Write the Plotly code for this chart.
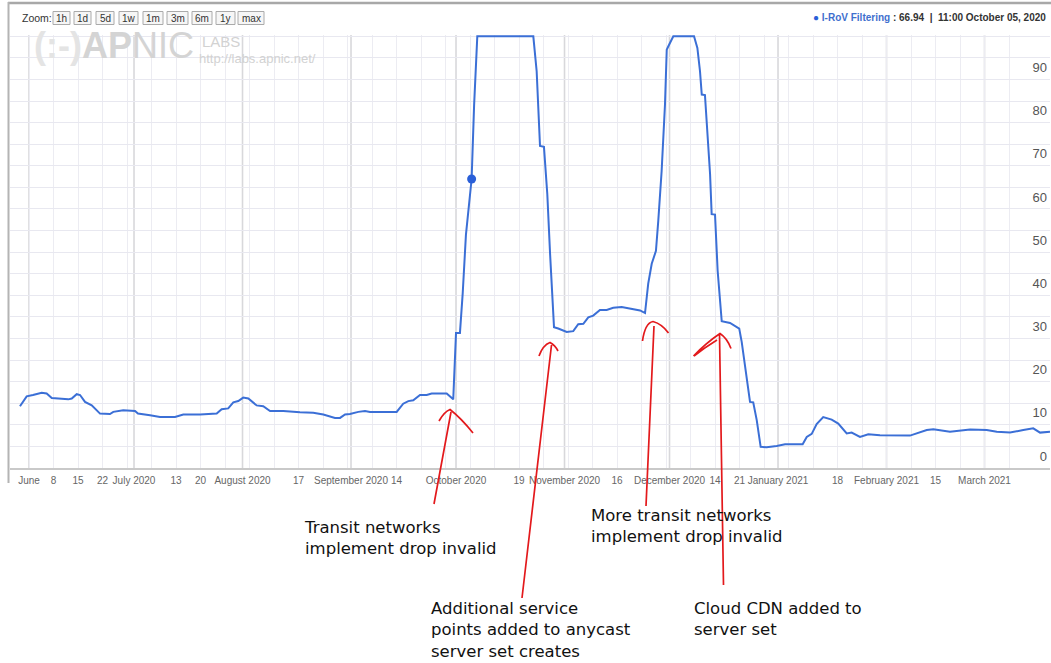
import plotly.graph_objects as go

W, H = 1051, 663

# ---------------- data ----------------
dates = [
    '2020-05-29 10:00', '2020-05-31 08:00', '2020-06-02 03:00', '2020-06-04 15:00', '2020-06-06 01:00',
    '2020-06-07 12:00', '2020-06-12 05:00', '2020-06-13 05:00', '2020-06-14 15:00', '2020-06-15 14:00',
    '2020-06-17 00:00', '2020-06-18 22:00', '2020-06-21 07:00', '2020-06-24 03:00', '2020-06-25 02:00',
    '2020-06-27 22:00', '2020-07-01 07:00', '2020-07-02 03:00', '2020-07-05 14:00', '2020-07-08 10:00',
    '2020-07-12 17:00', '2020-07-15 02:00', '2020-07-19 21:00', '2020-07-24 15:00', '2020-07-26 01:00',
    '2020-07-27 22:00', '2020-07-29 09:00', '2020-07-30 19:00', '2020-08-01 05:00', '2020-08-02 16:00',
    '2020-08-05 01:00', '2020-08-06 22:00', '2020-08-08 21:00', '2020-08-12 16:00', '2020-08-17 10:00',
    '2020-08-21 05:00', '2020-08-24 02:00', '2020-08-27 10:00', '2020-08-28 21:00', '2020-08-30 07:00',
    '2020-08-31 17:00', '2020-09-03 02:00', '2020-09-05 00:00', '2020-09-06 10:00', '2020-09-10 05:00',
    '2020-09-14 01:00', '2020-09-15 22:00', '2020-09-17 09:00', '2020-09-18 19:00', '2020-09-20 17:00',
    '2020-09-22 15:00', '2020-09-24 01:00', '2020-09-28 08:00', '2020-09-30 05:00', '2020-10-01 00:00',
    '2020-10-02 03:00', '2020-10-02 22:00', '2020-10-03 20:00', '2020-10-05 11:00', '2020-10-06 04:00',
    '2020-10-07 02:00', '2020-10-23 02:00', '2020-10-24 01:00', '2020-10-25 00:00', '2020-10-26 03:00',
    '2020-10-27 02:00', '2020-10-27 21:00', '2020-10-29 00:00', '2020-10-30 05:00', '2020-11-01 15:00',
    '2020-11-03 12:00', '2020-11-04 22:00', '2020-11-06 09:00', '2020-11-07 19:00', '2020-11-09 05:00',
    '2020-11-11 03:00', '2020-11-13 01:00', '2020-11-14 22:00', '2020-11-17 08:00', '2020-11-20 16:00',
    '2020-11-22 14:00', '2020-11-24 00:00', '2020-11-24 22:00', '2020-11-25 22:00', '2020-11-27 03:00',
    '2020-11-27 19:00', '2020-11-28 18:00', '2020-11-29 17:00', '2020-11-30 05:00', '2020-11-30 16:00',
    '2020-12-02 02:00', '2020-12-08 00:00', '2020-12-08 23:00', '2020-12-09 17:00', '2020-12-10 05:00',
    '2020-12-11 03:00', '2020-12-11 19:00', '2020-12-12 14:00', '2020-12-13 01:00', '2020-12-14 00:00',
    '2020-12-14 18:00', '2020-12-15 22:00', '2020-12-18 07:00', '2020-12-19 17:00', '2020-12-20 22:00',
    '2020-12-21 15:00', '2020-12-22 14:00', '2020-12-23 05:00', '2020-12-24 00:00', '2020-12-24 22:00',
    '2020-12-25 22:00', '2020-12-27 01:00', '2020-12-28 18:00', '2020-12-31 15:00', '2021-01-03 00:00',
    '2021-01-08 01:00', '2021-01-09 05:00', '2021-01-10 15:00', '2021-01-12 01:00', '2021-01-13 22:00',
    '2021-01-16 08:00', '2021-01-18 05:00', '2021-01-20 15:00', '2021-01-22 01:00', '2021-01-24 10:00',
    '2021-01-26 19:00', '2021-01-30 03:00', '2021-02-07 17:00', '2021-02-12 12:00', '2021-02-14 09:00',
    '2021-02-19 03:00', '2021-02-24 21:00', '2021-03-01 15:00', '2021-03-04 12:00', '2021-03-08 07:00',
    '2021-03-12 02:00', '2021-03-14 22:00', '2021-03-16 21:00', '2021-03-19 17:00',
]
values = [
    14.3, 16.6, 16.9, 17.4, 17.25,
    16.2, 15.9, 16.1, 17.1, 16.9,
    15.3, 14.5, 12.6, 12.5, 13.0,
    13.4, 13.2, 12.6, 12.2, 11.8,
    11.8, 12.4, 12.4, 12.6, 13.6,
    13.8, 15.2, 15.5, 16.3, 16.1,
    14.5, 14.3, 13.2, 13.2, 12.9,
    12.8, 12.4, 11.6, 11.6, 12.4,
    12.5, 13.0, 13.2, 13.0, 13.0,
    13.0, 14.9, 15.5, 15.7, 16.9,
    16.9, 17.25, 17.25, 15.9, 31.3,
    31.3, 40.5, 54.0, 66.94, 84.0,
    100.0, 100.0, 91.9, 74.6, 74.4,
    63.4, 49.6, 32.6, 32.3, 31.5,
    31.7, 33.3, 33.4, 34.9, 35.3,
    36.6, 36.6, 37.1, 37.3, 36.9,
    36.5, 35.9, 42.7, 47.3, 50.3,
    57.3, 68.8, 84.2, 96.9, 97.7,
    100.0, 100.0, 97.3, 91.9, 86.5,
    86.4, 78.8, 68.1, 58.8, 58.7,
    45.7, 34.0, 33.6, 33.0, 32.3,
    29.2, 23.4, 19.6, 15.3, 15.2,
    11.1, 4.9, 4.8, 5.1, 5.5,
    5.5, 7.2, 7.9, 10.2, 11.8,
    11.2, 10.3, 8.0, 8.2, 7.2,
    7.8, 7.6, 7.5, 8.8, 9.0,
    8.4, 8.9, 8.8, 8.4, 8.2,
    8.8, 9.2, 8.2, 8.4,
]

hover_date = '2020-10-05 11:00'
hover_value = 66.94
hover_label = '11:00 October 05, 2020'
series_name = 'I-RoV Filtering'

x_tick_dates = ['2020-06-01', '2020-06-08', '2020-06-15', '2020-06-22', '2020-07-01', '2020-07-13',
                '2020-07-20', '2020-08-01', '2020-08-17', '2020-09-01', '2020-09-14', '2020-10-01',
                '2020-10-19', '2020-11-01', '2020-11-16', '2020-12-01', '2020-12-14', '2020-12-21',
                '2021-01-01', '2021-01-18', '2021-02-01', '2021-02-15', '2021-03-01']
x_tick_text = ['June', '8', '15', '22', 'July 2020', '13', '20', 'August 2020', '17',
               'September 2020', '14', 'October 2020', '19', 'November 2020', '16',
               'December 2020', '14', '21', 'January 2021', '18', 'February 2021', '15', 'March 2021']
month_starts = ['2020-06-01', '2020-07-01', '2020-08-01', '2020-09-01', '2020-10-01', '2020-11-01',
                '2020-12-01', '2021-01-01', '2021-02-01', '2021-03-01']
x_range = ['2020-05-26 13:40', '2021-03-19 17:00']

y_tick_vals = [0, 5, 10, 15, 20, 25, 30, 35, 40, 45, 50, 55, 60, 65, 70, 75, 80, 85, 90, 95, 100]
y_tick_text = ['0', '', '10', '', '20', '', '30', '', '40', '', '50', '', '60', '', '70', '', '80', '',
               '90', '', '']

zoom_buttons = ['1h', '1d', '5d', '1w', '1m', '3m', '6m', '1y', 'max']

notes = [
    'Transit networks<br>implement drop invalid',
    'More transit networks<br>implement drop invalid',
    'Additional service<br>points added to anycast<br>server set creates',
    'Cloud CDN added to<br>server set',
]

# ---------------- layout helpers (pixel -> paper) ----------------
def px(x):
    return x / W


def py(y):
    return 1 - y / H


def path(points_cmds):
    out = []
    for cmd, pts in points_cmds:
        coords = ' '.join(f'{px(x):.5f},{py(y):.5f}' for x, y in pts)
        out.append(f'{cmd} {coords}')
    return ' '.join(out)


PLOT_L, PLOT_R, PLOT_T, PLOT_B = 10, 1050, 35, 468
BLUE = '#3b6fd6'
RED = '#e3191c'

fig = go.Figure()
fig.add_trace(go.Scatter(x=dates, y=values, mode='lines', name=series_name,
                         line=dict(color=BLUE, width=2), hoverinfo='skip'))
fig.add_trace(go.Scatter(x=[hover_date], y=[hover_value], mode='markers', name=series_name,
                         marker=dict(color='#2a5fd8', size=9), hoverinfo='skip'))

shapes = []
# monthly grid lines (darker)
for m in month_starts:
    shapes.append(dict(type='line', xref='x', yref='paper', x0=m, x1=m,
                       y0=py(PLOT_B), y1=py(PLOT_T), layer='below',
                       line=dict(color='#d8d8db', width=1.6)))

# container border
shapes.append(dict(type='line', xref='paper', yref='paper', x0=px(8), x1=1, y0=py(3), y1=py(3),
                   line=dict(color='#a8a8a8', width=2.5)))
shapes.append(dict(type='line', xref='paper', yref='paper', x0=px(8.5), x1=px(8.5), y0=py(2), y1=py(483),
                   line=dict(color='#b4b4b4', width=2)))

# zoom button boxes
btn_boxes = [(53, 70), (74, 91), (96, 114), (119, 138), (143, 163), (167, 188), (192, 212), (216, 235), (238, 264)]
annotations = []
annotations.append(dict(x=px(20), y=py(18), xref='paper', yref='paper', text='Zoom:', showarrow=False,
                        xanchor='left', yanchor='middle',
                        font=dict(family='Liberation Sans, Arial', size=10.5, color='#333')))
for lab, (x0, x1) in zip(zoom_buttons, btn_boxes):
    shapes.append(dict(type='rect', xref='paper', yref='paper', x0=px(x0), x1=px(x1), y0=py(24.5), y1=py(11.5),
                       fillcolor='#f6f6f6', line=dict(color='#aaaaaa', width=1)))
    annotations.append(dict(x=px((x0 + x1) / 2), y=py(18.3), xref='paper', yref='paper', text=lab,
                            showarrow=False, xanchor='center', yanchor='middle',
                            font=dict(family='Liberation Sans, Arial', size=10, color='#333')))

# legend / hover readout
annotations.append(dict(x=px(1048), y=py(17), xref='paper', yref='paper', showarrow=False,
                        xanchor='right', yanchor='middle',
                        text=(f"<span style='color:#2a5fd8'>●</span> "
                              f"<span style='color:#3f6fce'>{series_name}</span> : {hover_value:.2f}"
                              f"  |  {hover_label}"),
                        font=dict(family='Liberation Sans, Arial', size=10,
                                  color='#333', weight='bold')))

# watermark
annotations.append(dict(x=px(32), y=py(46), xref='paper', yref='paper', showarrow=False,
                        xanchor='left', yanchor='middle',
                        text="<span style='color:#e4e4e4'><b>(:-)</b></span><b>AP</b>NIC",
                        font=dict(family='Liberation Sans, Arial', size=36, color='#d4d4d4')))
annotations.append(dict(x=px(200), y=py(41), xref='paper', yref='paper', showarrow=False,
                        xanchor='left', yanchor='middle', text='LABS',
                        font=dict(family='Liberation Sans, Arial', size=15, color='#d2d2d2')))
annotations.append(dict(x=px(197), y=py(58), xref='paper', yref='paper', showarrow=False,
                        xanchor='left', yanchor='middle', text='http://labs.apnic.net/',
                        font=dict(family='Liberation Sans, Arial', size=13, color='#d2d2d2')))

# hand-written notes
note_pos = [(302, 538), (589, 526), (429, 630), (692, 619)]
for txt, (nx, ny) in zip(notes, note_pos):
    annotations.append(dict(x=px(nx), y=py(ny), xref='paper', yref='paper', showarrow=False,
                            xanchor='left', yanchor='middle', align='left', text=txt,
                            font=dict(family='DejaVu Sans', size=16.5, color='#111111')))

# red hand-drawn arrows
arrow_paths = [
    [('M', [(434, 504)]), ('L', [(451, 412)]),
     ('M', [(439, 421)]), ('Q', [(444, 412), (450, 409.5)]), ('Q', [(461, 418), (473, 433)])],
    [('M', [(522, 598)]), ('L', [(551.5, 345)]),
     ('M', [(539, 356)]), ('Q', [(543, 345), (550, 342.5)]), ('Q', [(555, 345), (558, 351)])],
    [('M', [(646, 506)]), ('L', [(654, 326)]),
     ('M', [(642.5, 341)]), ('Q', [(645, 323), (653, 321.5)]), ('Q', [(662, 324), (668.5, 333)])],
    [('M', [(723.5, 585)]), ('L', [(719.5, 334)]),
     ('M', [(693.5, 356)]), ('Q', [(706, 343), (720, 333.5)]), ('Q', [(727, 338), (731, 348.5)]),
     ('M', [(694, 356)]), ('Q', [(704, 348), (717, 340)])],
]
for ap in arrow_paths:
    shapes.append(dict(type='path', xref='paper', yref='paper', path=path(ap),
                       line=dict(color=RED, width=1.7)))

fig.update_layout(
    width=W, height=H, autosize=False,
    margin=dict(l=0, r=0, t=0, b=0),
    paper_bgcolor='white', plot_bgcolor='white',
    showlegend=False,
    shapes=shapes, annotations=annotations,
    xaxis=dict(
        domain=[px(PLOT_L), px(PLOT_R)], range=x_range, type='date',
        tickmode='array', tickvals=x_tick_dates, ticktext=x_tick_text,
        showgrid=False, ticks='', showline=True, linecolor='#c9c9c9', linewidth=2,
        tickfont=dict(family='Liberation Sans, Arial', size=10, color='#666'),
        ticklabelstandoff=2,
        minor=dict(tick0='2020-06-01', dtick=7 * 86400000, showgrid=True,
                   gridcolor='#ececf2', gridwidth=1, ticks=''),
        zeroline=False,
    ),
    yaxis=dict(
        domain=[py(PLOT_B), py(PLOT_T)], range=[0, 100.3],
        side='right', ticklabelposition='inside',
        tickmode='array', tickvals=y_tick_vals, ticktext=y_tick_text,
        ticklabelshift=-12,
        showgrid=True, gridcolor='#e8e8f0', gridwidth=1, ticks='',
        zeroline=False, showline=False,
        tickfont=dict(family='Liberation Sans, Arial', size=13, color='#555'),
    ),
)

fig.write_html('out.html', config={'displayModeBar': False},
               post_script="document.body.style.margin='0px';document.body.style.padding='0px';")
